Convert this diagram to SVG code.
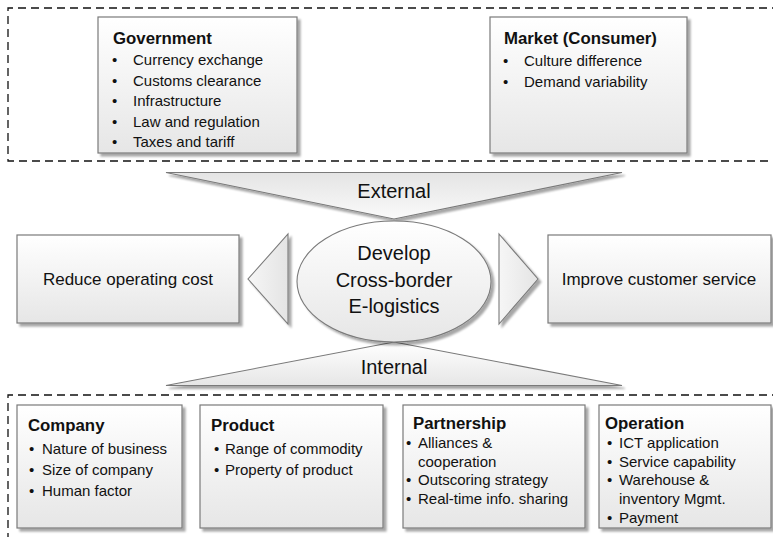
<svg xmlns="http://www.w3.org/2000/svg" width="773" height="537" viewBox="0 0 773 537">
<defs>
<linearGradient id="gBox" x1="0" y1="0" x2="0" y2="1">
<stop offset="0" stop-color="#ffffff"/>
<stop offset="1" stop-color="#e6e6e6"/>
</linearGradient>
<linearGradient id="gTriDown" x1="0" y1="0" x2="0" y2="1">
<stop offset="0" stop-color="#e4e4e4"/>
<stop offset="1" stop-color="#fafafa"/>
</linearGradient>
<linearGradient id="gTriUp" x1="0" y1="0" x2="0" y2="1">
<stop offset="0" stop-color="#ffffff"/>
<stop offset="1" stop-color="#e6e6e6"/>
</linearGradient>
<linearGradient id="gSide" x1="0" y1="0" x2="1" y2="0">
<stop offset="0" stop-color="#f6f6f6"/>
<stop offset="1" stop-color="#e4e4e4"/>
</linearGradient>
<filter id="sh" x="-10%" y="-10%" width="130%" height="130%">
<feGaussianBlur in="SourceAlpha" stdDeviation="1.2"/>
<feOffset dx="2.5" dy="2.5" result="b"/>
<feComponentTransfer><feFuncA type="linear" slope="0.35"/></feComponentTransfer>
<feMerge><feMergeNode/><feMergeNode in="SourceGraphic"/></feMerge>
</filter>
</defs>
<style>
.box{fill:url(#gBox);stroke:#7a7a7a;stroke-width:1.2;filter:url(#sh);}
.tri{stroke:#7a7a7a;stroke-width:1.1;filter:url(#sh);}
.dash{fill:none;stroke:#111;stroke-width:1.3;stroke-dasharray:8 5;}
text{font-family:"Liberation Sans",Arial,sans-serif;fill:#111;}
.t{font-size:16.8px;font-weight:bold;}
.b{font-size:15px;}
.m{font-size:17px;text-anchor:middle;}
.c{font-size:20px;text-anchor:middle;}
</style>

<g id="external-group">
<path class="dash" d="M780,8 H8 V161 H780"/>
</g>
<g id="internal-group">
<path class="dash" d="M780,395 H8 V545"/>
</g>

<g id="government">
<rect class="box" x="98" y="17" width="199" height="136"/>
<text class="t" x="113" y="44">Government</text>
<text class="b" x="112" y="65">•<tspan x="133">Currency exchange</tspan></text>
<text class="b" x="112" y="85.5">•<tspan x="133">Customs clearance</tspan></text>
<text class="b" x="112" y="106">•<tspan x="133">Infrastructure</tspan></text>
<text class="b" x="112" y="126.5">•<tspan x="133">Law and regulation</tspan></text>
<text class="b" x="112" y="147">•<tspan x="133">Taxes and tariff</tspan></text>
</g>

<g id="market">
<rect class="box" x="490" y="17" width="197" height="136"/>
<text class="t" x="504" y="44">Market (Consumer)</text>
<text class="b" x="503" y="65.5">•<tspan x="524">Culture difference</tspan></text>
<text class="b" x="503" y="86.5">•<tspan x="524">Demand variability</tspan></text>
</g>

<g id="external">
<polygon class="tri" points="166,172.5 622,172.5 394,219" fill="url(#gTriDown)"/>
<text class="c" x="394" y="198">External</text>
</g>

<g id="internal">
<polygon class="tri" points="394,342 622,385.5 166,385.5" fill="url(#gTriUp)"/>
<text class="c" x="394" y="374">Internal</text>
</g>

<g id="develop">
<ellipse class="tri" cx="394" cy="281.5" rx="97" ry="60.5" fill="url(#gBox)"/>
<text class="c" x="394" y="260">Develop</text>
<text class="c" x="394" y="286.5">Cross-border</text>
<text class="c" x="394" y="313">E-logistics</text>
</g>

<g id="reduce">
<rect class="box" x="17" y="235" width="222" height="88"/>
<text class="m" x="128" y="285">Reduce operating cost</text>
</g>

<g id="improve">
<rect class="box" x="548" y="235" width="223" height="88"/>
<text class="m" x="659" y="285">Improve customer service</text>
</g>

<g id="connectors">
<polygon class="tri" points="288,234 288,324 248,279" fill="url(#gSide)"/>
<polygon class="tri" points="499,234 499,324 538,279" fill="url(#gSide)"/>
</g>

<g id="company">
<rect class="box" x="17" y="405" width="165" height="123"/>
<text class="t" x="28" y="431">Company</text>
<text class="b" x="29" y="453.5">•<tspan x="42">Nature of business</tspan></text>
<text class="b" x="29" y="474.5">•<tspan x="42">Size of company</tspan></text>
<text class="b" x="29" y="495.5">•<tspan x="42">Human factor</tspan></text>
</g>

<g id="product">
<rect class="box" x="200" y="405" width="183" height="123"/>
<text class="t" x="211" y="431">Product</text>
<text class="b" x="214" y="453.5">•<tspan x="225">Range of commodity</tspan></text>
<text class="b" x="214" y="474.5">•<tspan x="225">Property of product</tspan></text>
</g>

<g id="partnership">
<rect class="box" x="403" y="405" width="182" height="123"/>
<text class="t" x="413" y="429">Partnership</text>
<text class="b" x="406" y="447.5">•<tspan x="418">Alliances &amp;</tspan></text>
<text class="b" x="418" y="466.5">cooperation</text>
<text class="b" x="406" y="485">•<tspan x="418">Outscoring strategy</tspan></text>
<text class="b" x="406" y="504">•<tspan x="418">Real-time info. sharing</tspan></text>
</g>

<g id="operation">
<rect class="box" x="599" y="405" width="172" height="123"/>
<text class="t" x="605" y="429">Operation</text>
<text class="b" x="607" y="447.5">•<tspan x="619">ICT application</tspan></text>
<text class="b" x="607" y="466.5">•<tspan x="619">Service capability</tspan></text>
<text class="b" x="607" y="485">•<tspan x="619">Warehouse &amp;</tspan></text>
<text class="b" x="619" y="504">inventory Mgmt.</text>
<text class="b" x="607" y="523">•<tspan x="619">Payment</tspan></text>
</g>
</svg>
